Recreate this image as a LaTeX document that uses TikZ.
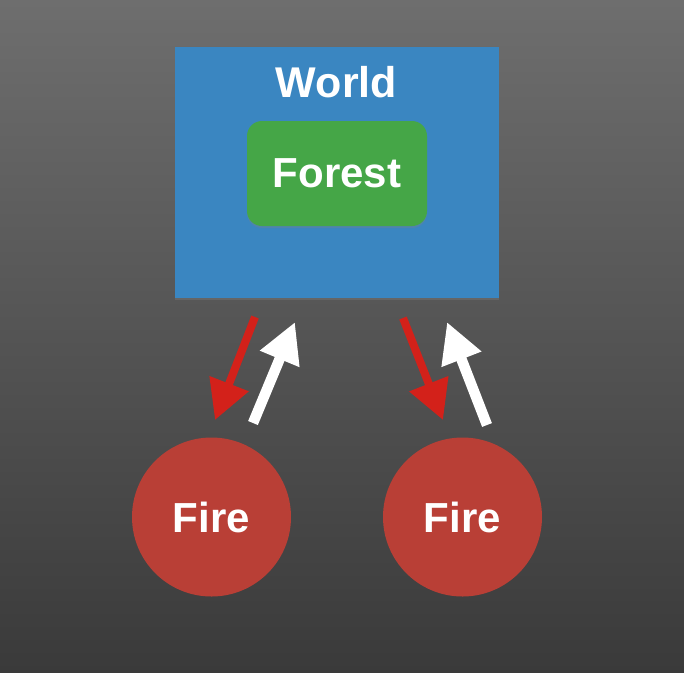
\documentclass[tikz,border=0pt]{standalone}
\usepackage{fontspec}
\setmainfont{Liberation Sans}
\usetikzlibrary{arrows.meta,shadows}
\definecolor{bgtop}{HTML}{6E6E6E}
\definecolor{bgbot}{HTML}{3A3A3A}
\definecolor{worldblue}{HTML}{3A86C1}
\definecolor{forestgreen}{HTML}{45A647}
\definecolor{firered}{HTML}{B93F36}
\definecolor{arrowred}{HTML}{D3211A}
\tikzset{
  lbl/.style={text=white, font=\fontsize{42}{50}\selectfont\bfseries},
  worldbox/.style={fill=worldblue, minimum width=324pt, minimum height=251pt, inner sep=0pt,
    drop shadow={shadow xshift=0pt, shadow yshift=-2pt, opacity=0.35}},
  forestbox/.style={lbl, fill=forestgreen, rounded corners=15pt, minimum width=180pt, minimum height=105pt, inner sep=0pt,
    drop shadow={shadow xshift=0pt, shadow yshift=-2pt, opacity=0.3}},
  firecircle/.style={lbl, circle, fill=firered, minimum size=159pt, inner sep=0pt},
  redarrow/.style={draw=arrowred, line width=8pt, -{Triangle[width=40pt,length=39pt]}},
  whitearrow/.style={draw=white, line width=10.5pt, -{Triangle[width=40pt,length=40pt]}},
}
\begin{document}
\begin{tikzpicture}[x=1pt,y=-1pt]
\useasboundingbox (0,0) rectangle (684,672);
\shade[top color=bgtop, bottom color=bgbot] (0,0) rectangle (684,672);
\node[worldbox] (world) at (336.5,172.5) {};
\node[lbl, font=\fontsize{43}{50}\selectfont\bfseries, anchor=base] (worldlbl) at (336.5,97) {World};
\node[forestbox] (forest) at (337,173.5) {Forest};
\node[firecircle] (fire1) at (211.5,517) {Fire};
\node[firecircle] (fire2) at (462.5,517) {Fire};
\coordinate (r1s) at (255,317);
\coordinate (r1e) at (215,420);
\coordinate (w1s) at (253,423);
\coordinate (w1e) at (295,322);
\coordinate (r2s) at (403,318);
\coordinate (r2e) at (443,420);
\coordinate (w2s) at (487,425);
\coordinate (w2e) at (447,322);
\draw[redarrow] (r1s) -- (r1e);
\draw[whitearrow] (w1s) -- (w1e);
\draw[redarrow] (r2s) -- (r2e);
\draw[whitearrow] (w2s) -- (w2e);
\end{tikzpicture}
\end{document}
